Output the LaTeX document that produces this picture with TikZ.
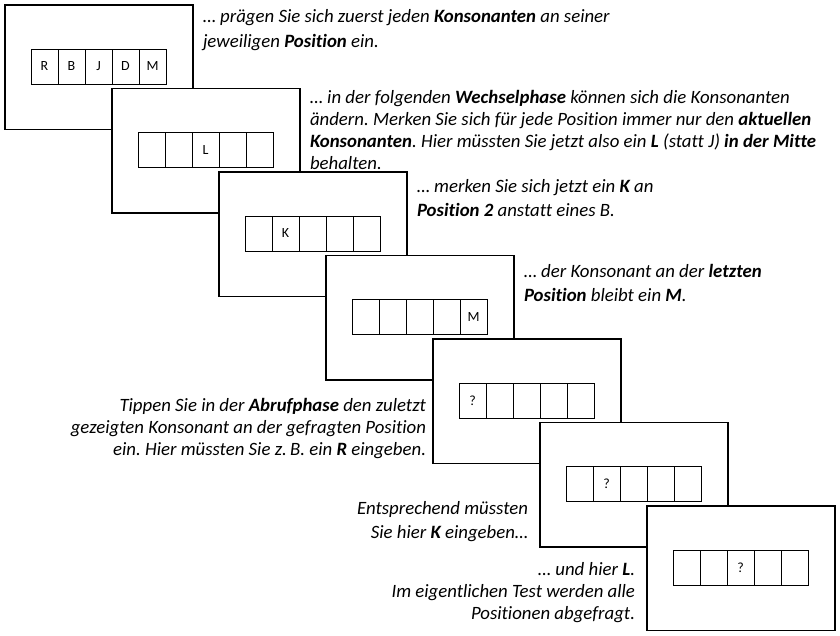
\documentclass[tikz,border=0pt]{standalone}
\usepackage{fontspec}
\setmainfont{Carlito}[Ligatures=NoCommon, ItalicFont=Carlito Italic, BoldFont=Carlito Bold, BoldItalicFont=Carlito Bold Italic]
\newcommand{\drawslide}[6]{%
  \pgfmathsetmacro\fx{5+107*#1}%
  \pgfmathsetmacro\fy{5+83.5*#1}%
  \node[frame, anchor=north west] (f#1) at (\fx,\fy) {};
  \node[cell, anchor=north west] (f#1c1) at (\fx+26,\fy+44) {#2};
  \node[cell, anchor=west] (f#1c2) at (f#1c1.east) {#3};
  \node[cell, anchor=west] (f#1c3) at (f#1c2.east) {#4};
  \node[cell, anchor=west] (f#1c4) at (f#1c3.east) {#5};
  \node[cell, anchor=west] (f#1c5) at (f#1c4.east) {#6};
}
\newcommand{\fst}{\rule{0pt}{15pt}}
\begin{document}
\frenchspacing
\begin{tikzpicture}[x=1pt,y=-1pt,
  frame/.style={draw=black, line width=1.2pt, fill=white, inner sep=0pt, outer sep=0pt,
    minimum width=188pt, minimum height=124.5pt},
  cell/.style={draw=black, line width=0.9pt, inner sep=0pt, outer sep=0pt,
    minimum width=27pt, minimum height=35pt, font=\fontsize{14}{16}\selectfont},
  descA/.style={inner sep=0pt, outer sep=0pt, text=black, font=\fontsize{18.8}{24.5}\selectfont\itshape\frenchspacing},
  descB/.style={inner sep=0pt, outer sep=0pt, text=black, font=\fontsize{18.8}{22}\selectfont\itshape\frenchspacing}]
\useasboundingbox (0,0) rectangle (840,635);
\fill[white] (0,0) rectangle (840,635);
\drawslide{0}{R}{B}{J}{D}{M}
\drawslide{1}{}{}{L}{}{}
\drawslide{2}{}{K}{}{}{}
\drawslide{3}{}{}{}{}{M}
\drawslide{4}{?}{}{}{}{}
\drawslide{5}{}{?}{}{}{}
\drawslide{6}{}{}{?}{}{}
\node[descA, align=left, anchor=north west] (t1) at (203,{22.5-15})
  {\fst… prägen Sie sich zuerst jeden \textbf{Konsonanten} an seiner\\ jeweiligen \textbf{Position} ein.};
\node[descB, align=left, anchor=north west] (t2) at (310,{103-15})
  {\fst… in der folgenden \textbf{Wechselphase} können sich die Konsonanten\\ ändern. Merken Sie sich für jede Position immer nur den \textbf{aktuellen}\\ \textbf{Konsonanten}. Hier müssten Sie jetzt also ein \textbf{L} (statt J) \textbf{in der Mitte}\\ behalten.};
\node[descA, align=left, anchor=north west] (t3) at (417,{192-15})
  {\fst… merken Sie sich jetzt ein \textbf{K} an\\ \textbf{Position 2} anstatt eines B.};
\node[descA, align=left, anchor=north west] (t4) at (524,{277-15})
  {\fst… der Konsonant an der \textbf{letzten}\\ \textbf{Position} bleibt ein \textbf{M}.};
\node[descB, align=right, anchor=north east] (t5) at (426,{411.5-15})
  {\fst Tippen Sie in der \textbf{Abrufphase} den zuletzt\\ gezeigten Konsonant an der gefragten Position\\ ein. Hier müssten Sie z.\,B. ein \textbf{R} eingeben.};
\node[descA, align=right, anchor=north east] (t6) at (528,{514-15})
  {\fst Entsprechend müssten\\ Sie hier \textbf{K} eingeben…};
\node[descB, align=right, anchor=north east] (t7) at (635,{575.5-15})
  {\fst… und hier \textbf{L}.\\ Im eigentlichen Test werden alle\\ Positionen abgefragt.};
\end{tikzpicture}
\end{document}
